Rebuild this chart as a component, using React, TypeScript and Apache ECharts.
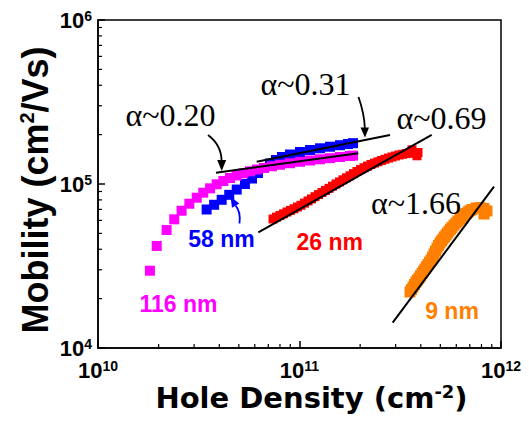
import React, { useEffect, useRef } from 'react';
import * as echarts from 'echarts';

// 58 nm (blue)
const blueX = [3.46e10, 3.77e10, 4.11e10, 4.48e10, 4.88e10, 5.36e10, 5.81e10, 6.22e10, 6.67e10, 7.14e10, 7.64e10, 8.19e10, 8.97e10, 1.006e11, 1.128e11, 1.264e11, 1.417e11, 1.589e11, 1.741e11, 1.844e11];
const blueY = [6.99e4, 7.47e4, 8.01e4, 8.59e4, 9.25e4, 1.0e5, 1.08e5, 1.167e5, 1.252e5, 1.334e5, 1.401e5, 1.461e5, 1.513e5, 1.567e5, 1.612e5, 1.651e5, 1.688e5, 1.724e5, 1.753e5, 1.774e5];

// 116 nm (magenta)
const magX = [1.81e10, 1.956e10, 2.19e10, 2.39e10, 2.6e10, 2.84e10, 3.09e10, 3.33e10, 3.6e10, 3.88e10, 4.19e10, 4.52e10, 4.88e10, 5.26e10, 5.68e10, 6.15e10, 6.67e10, 7.3e10, 8.0e10, 8.97e10, 1.006e11, 1.128e11, 1.264e11, 1.417e11, 1.589e11, 1.781e11, 1.844e11];
const magY = [2.96e4, 4.19e4, 5.24e4, 6.09e4, 6.87e4, 7.58e4, 8.25e4, 8.85e4, 9.41e4, 9.96e4, 1.043e5, 1.088e5, 1.127e5, 1.162e5, 1.195e5, 1.226e5, 1.252e5, 1.282e5, 1.31e5, 1.339e5, 1.366e5, 1.391e5, 1.415e5, 1.437e5, 1.461e5, 1.482e5, 1.49e5];

// 26 nm (red)
const redX = [7.39e10, 7.69e10, 8.0e10, 8.33e10, 8.67e10, 9.02e10, 9.39e10, 9.77e10, 1.017e11, 1.059e11, 1.102e11, 1.147e11, 1.194e11, 1.243e11, 1.293e11, 1.346e11, 1.401e11, 1.458e11, 1.518e11, 1.58e11, 1.644e11, 1.711e11, 1.781e11, 1.854e11, 1.929e11, 2.008e11, 2.09e11, 2.175e11, 2.263e11, 2.357e11, 2.453e11, 2.553e11, 2.657e11, 2.765e11, 2.878e11, 2.996e11, 3.118e11, 3.245e11, 3.377e11, 3.515e11, 3.617e11, 3.659e11, 3.829e11, 3.873e11];
const redY = [6.12e4, 6.28e4, 6.43e4, 6.58e4, 6.75e4, 6.9e4, 7.06e4, 7.24e4, 7.42e4, 7.64e4, 7.88e4, 8.11e4, 8.37e4, 8.62e4, 8.88e4, 9.14e4, 9.41e4, 9.7e4, 1.0e5, 1.03e5, 1.061e5, 1.091e5, 1.122e5, 1.157e5, 1.192e5, 1.224e5, 1.256e5, 1.286e5, 1.315e5, 1.341e5, 1.366e5, 1.391e5, 1.415e5, 1.439e5, 1.461e5, 1.482e5, 1.503e5, 1.518e5, 1.532e5, 1.541e5, 1.616e5, 1.55e5, 1.486e5, 1.556e5];

// 9 nm (orange)
const orgX = [3.535e11, 3.596e11, 3.659e11, 3.722e11, 3.787e11, 3.852e11, 3.919e11, 3.986e11, 4.055e11, 4.125e11, 4.196e11, 4.268e11, 4.342e11, 4.417e11, 4.494e11, 4.571e11, 4.65e11, 4.73e11, 4.813e11, 4.896e11, 4.98e11, 5.066e11, 5.154e11, 5.243e11, 5.333e11, 5.426e11, 5.52e11, 5.615e11, 5.712e11, 5.846e11, 5.98e11, 6.118e11, 6.259e11, 6.404e11, 6.552e11, 6.705e11, 6.86e11, 7.018e11, 7.18e11, 7.515e11, 7.867e11, 8.235e11, 8.235e11, 8.52e11];
const orgY = [2.196e4, 2.274e4, 2.355e4, 2.439e4, 2.526e4, 2.597e4, 2.672e4, 2.755e4, 2.847e4, 2.94e4, 3.032e4, 3.127e4, 3.229e4, 3.336e4, 3.44e4, 3.588e4, 3.743e4, 3.904e4, 4.072e4, 4.217e4, 4.367e4, 4.491e4, 4.619e4, 4.751e4, 4.887e4, 5.025e4, 5.169e4, 5.3e4, 5.43e4, 5.61e4, 5.783e4, 5.95e4, 6.117e4, 6.29e4, 6.471e4, 6.61e4, 6.75e4, 6.87e4, 6.99e4, 7.14e4, 7.19e4, 7.09e4, 6.56e4, 6.85e4];

// power-law guide lines [x0, x1], [y0, y1]
const fit020X = [3.85e10, 1.958e11];
const fit020Y = [1.172e5, 1.539e5];
const fit031X = [6.13e10, 2.812e11];
const fit031Y = [1.368e5, 1.99e5];
const fit069X = [6.246e10, 4.53e11];
const fit069Y = [5.076e4, 1.99e5];
const fit166X = [2.9e11, 9.23e11];
const fit166Y = [1.427e4, 9.63e4];

const xMinorTicks = [2e10, 3e10, 4e10, 5e10, 6e10, 7e10, 8e10, 9e10, 2e11, 3e11, 4e11, 5e11, 6e11, 7e11, 8e11, 9e11];
const yMinorTicks = [2e4, 3e4, 4e4, 5e4, 6e4, 7e4, 8e4, 9e4, 2e5, 3e5, 4e5, 5e5, 6e5, 7e5, 8e5, 9e5];

const zip = (xs: number[], ys: number[]) => xs.map((x, i) => [x, ys[i]]);

const SANS = 'Liberation Sans';
const SERIF = 'Liberation Serif';

export default function App() {
  const ref = useRef<HTMLDivElement>(null);
  useEffect(() => {
    if (!ref.current) return;
    const chart = echarts.init(ref.current, undefined, { renderer: 'svg' });
    const labelRich = {
      b: { fontSize: 22, fontWeight: 'bold', fontFamily: SANS, color: '#000', lineHeight: 22 },
      s: { fontSize: 14, fontWeight: 'bold', fontFamily: SANS, color: '#000', lineHeight: 6, verticalAlign: 'top' },
    };
    const fmt = (v: number) => `{b|10}{s|${Math.round(Math.log10(v))}}`;
    const scatter = (name: string, xs: number[], ys: number[], color: string, size: number) => ({
      name,
      type: 'scatter',
      symbol: 'rect',
      symbolSize: size,
      data: zip(xs, ys),
      itemStyle: { color, opacity: 1 },
      silent: true,
      z: 3,
    });
    const fit = (xs: number[], ys: number[]) => ({
      type: 'line',
      data: zip(xs, ys),
      symbol: 'none',
      lineStyle: { color: '#000', width: 2 },
      silent: true,
      z: 5,
    });
    const tickData = [
      ...xMinorTicks.map((v) => [v, 1e4, 0]),
      ...yMinorTicks.map((v) => [1e10, v, 1]),
    ];
    const annText = (t: string, x: number, y: number) => ({
      type: 'text',
      x,
      y,
      z: 10,
      style: { text: t, font: `32px "${SERIF}"`, fill: '#000', textAlign: 'center', textVerticalAlign: 'middle' },
    });
    const lab = (t: string, x: number, y: number, color: string) => ({
      type: 'text',
      x,
      y,
      z: 10,
      style: { text: t, font: `bold 23px "${SANS}"`, fill: color, textAlign: 'center', textVerticalAlign: 'middle' },
    });
    const axisLabel = (margin: number) => ({
      margin,
      color: '#000',
      fontWeight: 'bold',
      fontFamily: SANS,
      fontSize: 22,
      formatter: fmt,
      rich: labelRich,
    });
    const option = {
      animation: false,
      grid: { left: 98, top: 20, right: 28, bottom: 74, show: true, borderColor: '#000', borderWidth: 1.5 },
      xAxis: {
        type: 'log',
        logBase: 10,
        min: 1e10,
        max: 1e12,
        axisLine: { lineStyle: { color: '#000', width: 1.5 } },
        axisTick: { inside: true, length: 7, lineStyle: { color: '#000', width: 1.5 } },
        splitLine: { show: false },
        axisLabel: axisLabel(11),
      },
      yAxis: {
        type: 'log',
        logBase: 10,
        min: 1e4,
        max: 1e6,
        axisLine: { lineStyle: { color: '#000', width: 1.5 } },
        axisTick: { inside: true, length: 7, lineStyle: { color: '#000', width: 1.5 } },
        splitLine: { show: false },
        axisLabel: axisLabel(6),
      },
      series: [
        {
          type: 'custom',
          silent: true,
          clip: false,
          data: tickData,
          encode: { x: 0, y: 1 },
          renderItem: (_p: any, api: any) => {
            const kind = api.value(2);
            const pt = api.coord([api.value(0), api.value(1)]);
            if (kind === 0) {
              return { type: 'line', shape: { x1: pt[0], y1: pt[1], x2: pt[0], y2: pt[1] - 4 }, style: { stroke: '#000', lineWidth: 1.2 } };
            }
            return { type: 'line', shape: { x1: pt[0], y1: pt[1], x2: pt[0] + 4, y2: pt[1] }, style: { stroke: '#000', lineWidth: 1.2 } };
          },
        },
        scatter('58 nm', blueX, blueY, '#0000ff', 10),
        scatter('116 nm', magX, magY, '#ff00ff', 10),
        scatter('26 nm', redX, redY, '#ff0000', 9),
        scatter('9 nm', orgX, orgY, '#ff8000', 11),
        fit(fit020X, fit020Y),
        fit(fit031X, fit031Y),
        fit(fit069X, fit069Y),
        fit(fit166X, fit166Y),
      ],
      graphic: [
        {
          type: 'text',
          x: 311.5,
          y: 397.5,
          style: {
            text: '{a|Hole Density (cm}{s|-2}{a|)}',
            textAlign: 'center',
            textVerticalAlign: 'middle',
            rich: {
              a: { fontSize: 29, fontWeight: 'bold', fontFamily: 'DejaVu Sans', lineHeight: 31, fill: '#000', color: '#000' },
              s: { fontSize: 18, fontWeight: 'bold', fontFamily: 'DejaVu Sans', lineHeight: 2, verticalAlign: 'top', fill: '#000', color: '#000' },
            },
          },
        },
        {
          type: 'text',
          x: 35,
          y: 190,
          rotation: Math.PI / 2,
          style: {
            text: '{a|Mobility (cm}{s|2}{a|/Vs)}',
            textAlign: 'center',
            textVerticalAlign: 'middle',
            rich: {
              a: { fontSize: 36, fontWeight: 'bold', fontFamily: SANS, lineHeight: 36, fill: '#000', color: '#000' },
              s: { fontSize: 20, fontWeight: 'bold', fontFamily: SANS, lineHeight: 4, verticalAlign: 'top', fill: '#000', color: '#000' },
            },
          },
        },
        annText('\u03b1~0.20', 170.5, 115),
        annText('\u03b1~0.31', 305.5, 84),
        annText('\u03b1~0.69', 441.5, 117.5),
        annText('\u03b1~1.66', 416, 203),
        lab('116 nm', 178.5, 303.5, '#ff00ff'),
        lab('58 nm', 221.5, 238.5, '#0000ff'),
        lab('26 nm', 329.7, 242, '#ff0000'),
        lab('9 nm', 452, 311, '#ff8000'),
        {
          type: 'bezierCurve',
          z: 10,
          shape: { x1: 208, y1: 135, cpx1: 216, cpy1: 141, cpx2: 221.5, cpy2: 150, x2: 221.6, y2: 161 },
          style: { stroke: '#000', lineWidth: 1.8, fill: 'none' },
        },
        { type: 'polygon', z: 10, shape: { points: [[217.2, 160], [226.2, 160], [221.7, 171]] }, style: { fill: '#000' } },
        {
          type: 'bezierCurve',
          z: 10,
          shape: { x1: 358.5, y1: 97, cpx1: 362, cpy1: 107, cpx2: 364.5, cpy2: 118, x2: 364.8, y2: 128 },
          style: { stroke: '#000', lineWidth: 1.8, fill: 'none' },
        },
        { type: 'polygon', z: 10, shape: { points: [[360.5, 127.5], [369, 127.5], [365, 137.5]] }, style: { fill: '#000' } },
        {
          type: 'bezierCurve',
          z: 10,
          shape: { x1: 239.5, y1: 223.5, cpx1: 240.5, cpy1: 215, cpx2: 239, cpy2: 209.5, x2: 235.6, y2: 205.7 },
          style: { stroke: '#0000ff', lineWidth: 1.8, fill: 'none' },
        },
        { type: 'polygon', z: 10, shape: { points: [[239.3, 203.6], [232, 207.8], [230.6, 196.8]] }, style: { fill: '#0000ff' } },
      ],
    };
    chart.setOption(option as any);
    return () => chart.dispose();
  }, []);
  return <div ref={ref} style={{ position: 'fixed', left: 0, top: 0, width: 529, height: 422, background: '#fff' }} />;
}
